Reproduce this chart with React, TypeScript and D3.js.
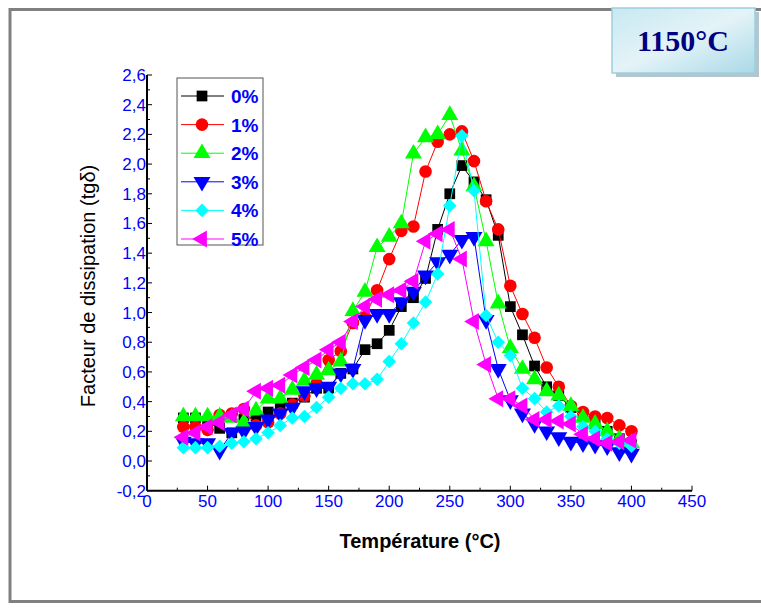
import React from "react";
import * as d3 from "d3";

const temps = [30, 40, 50, 60, 70, 80, 90, 100, 110, 120, 130, 140, 150, 160, 170, 180, 190, 200, 210, 220, 230, 240, 250, 260, 270, 280, 290, 300, 310, 320, 330, 340, 350, 360, 370, 380, 390, 400];

const s0 = [0.29, 0.29, 0.26, 0.22, 0.19, 0.28, 0.30, 0.33, 0.36, 0.39, 0.43, 0.49, 0.49, 0.59, 0.62, 0.75, 0.79, 0.88, 1.04, 1.10, 1.23, 1.56, 1.80, 1.99, 1.88, 1.76, 1.52, 1.04, 0.85, 0.64, 0.50, 0.44, 0.36, 0.30, 0.25, 0.20, 0.15, 0.11];
const s1 = [0.23, 0.23, 0.21, 0.31, 0.32, 0.35, 0.24, 0.26, 0.32, 0.38, 0.44, 0.52, 0.68, 0.74, 0.93, 0.97, 1.15, 1.36, 1.55, 1.58, 1.95, 2.15, 2.20, 2.22, 2.02, 1.75, 1.56, 1.18, 0.99, 0.83, 0.63, 0.50, 0.37, 0.33, 0.30, 0.29, 0.24, 0.20];
const s2 = [0.30, 0.30, 0.30, 0.30, 0.29, 0.26, 0.34, 0.42, 0.42, 0.48, 0.54, 0.58, 0.61, 0.67, 1.01, 1.14, 1.44, 1.51, 1.60, 2.07, 2.18, 2.20, 2.33, 2.09, 1.85, 1.48, 1.06, 0.76, 0.62, 0.55, 0.47, 0.44, 0.37, 0.29, 0.25, 0.20, 0.15, 0.12];
const s3 = [0.13, 0.12, 0.12, 0.07, 0.19, 0.20, 0.23, 0.28, 0.32, 0.36, 0.47, 0.49, 0.50, 0.59, 0.62, 0.95, 0.99, 0.99, 1.07, 1.14, 1.25, 1.34, 1.39, 1.49, 1.51, 0.95, 0.62, 0.41, 0.32, 0.25, 0.20, 0.16, 0.13, 0.12, 0.11, 0.10, 0.06, 0.05];
const s4 = [0.09, 0.09, 0.09, 0.10, 0.12, 0.13, 0.15, 0.19, 0.24, 0.29, 0.30, 0.36, 0.43, 0.49, 0.52, 0.52, 0.55, 0.67, 0.79, 0.93, 1.07, 1.26, 1.72, 2.19, 1.82, 0.98, 0.80, 0.71, 0.49, 0.42, 0.33, 0.37, 0.30, 0.23, 0.20, 0.15, 0.12, 0.10];
const s5 = [0.16, 0.19, 0.23, 0.26, 0.31, 0.35, 0.47, 0.49, 0.51, 0.58, 0.63, 0.68, 0.75, 0.80, 0.94, 1.04, 1.09, 1.12, 1.15, 1.21, 1.48, 1.53, 1.56, 1.36, 0.94, 0.65, 0.42, 0.42, 0.37, 0.28, 0.28, 0.27, 0.25, 0.18, 0.15, 0.12, 0.13, 0.14];

const seriesNames = ["0%", "1%", "2%", "3%", "4%", "5%"];
const seriesValues = [s0, s1, s2, s3, s4, s5];
const seriesColors = ["#000000", "#ff0000", "#00ff00", "#0000ff", "#00ffff", "#ff00ff"];
const seriesShapes = ["square", "circle", "triUp", "triDown", "diamond", "triLeft"];

const xTicks = [0, 50, 100, 150, 200, 250, 300, 350, 400, 450];
const yTicks = [-0.2, 0, 0.2, 0.4, 0.6, 0.8, 1.0, 1.2, 1.4, 1.6, 1.8, 2.0, 2.2, 2.4, 2.6];

const titleText = "1150°C";
const xTitle = "Température (°C)";
const yTitle = "Facteur de dissipation (tgδ)";

const W = 761;
const H = 608;
const x = d3.scaleLinear().domain([0, 450]).range([147, 692]);
const y = d3.scaleLinear().domain([-0.2, 2.6]).range([490.7, 75]);

const font = "'Liberation Sans', Arial, sans-serif";

function markerPath(shape: string): { d: string; rot: number } {
  switch (shape) {
    case "square":
      return { d: d3.symbol().type(d3.symbolSquare).size(115)() as string, rot: 0 };
    case "circle":
      return { d: d3.symbol().type(d3.symbolCircle).size(125)() as string, rot: 0 };
    case "triUp":
      return { d: d3.symbol().type(d3.symbolTriangle).size(125)() as string, rot: 0 };
    case "triDown":
      return { d: d3.symbol().type(d3.symbolTriangle).size(125)() as string, rot: 180 };
    case "triLeft":
      return { d: d3.symbol().type(d3.symbolTriangle).size(125)() as string, rot: -90 };
    case "diamond":
      return { d: d3.symbol().type(d3.symbolSquare).size(92)() as string, rot: 45 };
  }
  return { d: "", rot: 0 };
}

export default function App() {
  const line = d3
    .line<number>()
    .x((_, i) => x(temps[i]))
    .y((v) => y(v));

  const minorY = d3.range(-0.2, 2.61, 0.1);
  const minorX = d3.range(0, 451, 25);

  const legendX = 177;
  const legendY = 78;
  const legendRowY = (i: number) => 96 + i * 28.6;

  return (
    <svg width={W} height={H} style={{ position: "absolute", left: 0, top: 0 }}>
      <defs>
        <linearGradient id="tbg" x1="0" y1="0" x2="1" y2="1">
          <stop offset="0" stopColor="#c8e8f1" />
          <stop offset="0.5" stopColor="#e4f3f8" />
          <stop offset="1" stopColor="#a9d9e6" />
        </linearGradient>
      </defs>
      <rect x={0} y={0} width={W} height={H} fill="#ffffff" />
      {/* outer frame */}
      <rect x={10} y={9.5} width={760} height={592} fill="none" stroke="#808080" strokeWidth={3} />

      {/* title box */}
      <rect x={616} y={12} width={143} height={65} fill="#9fb8c4" opacity={0.8} />
      <rect x={612} y={8} width={143} height={65} fill="url(#tbg)" stroke="#9ccfdc" strokeWidth={1.5} />
      <text x={683} y={51} textAnchor="middle" fontFamily="'Liberation Serif', 'Times New Roman', serif" fontWeight="bold" fontSize={30} fill="#000080">
        {titleText}
      </text>

      {/* axes */}
      <line x1={x(0)} y1={y(-0.2)} x2={x(450)} y2={y(-0.2)} stroke="#000" strokeWidth={2} />
      <line x1={x(0)} y1={y(-0.2)} x2={x(0)} y2={y(2.6)} stroke="#000" strokeWidth={2} />
      {minorY.map((v, i) => (
        <line key={"my" + i} x1={x(0)} x2={x(0) + (i % 2 === 0 ? 5 : 3)} y1={y(v)} y2={y(v)} stroke="#000" strokeWidth={1} />
      ))}
      {minorX.map((v, i) => (
        <line key={"mx" + i} x1={x(v)} x2={x(v)} y1={y(-0.2)} y2={y(-0.2) - (i % 2 === 0 ? 5 : 3)} stroke="#000" strokeWidth={1} />
      ))}
      {yTicks.map((v) => (
        <text key={"yl" + v} x={146} y={y(v) + 6} textAnchor="end" fontFamily={font} fontSize={17} fill="#0000ff">
          {v.toFixed(1).replace(".", ",")}
        </text>
      ))}
      {xTicks.map((v) => (
        <text key={"xl" + v} x={x(v)} y={507} textAnchor="middle" fontFamily={font} fontSize={17} fill="#0000ff">
          {v}
        </text>
      ))}
      <text x={420} y={548} textAnchor="middle" fontFamily={font} fontWeight="bold" fontSize={20} fill="#000">
        {xTitle}
      </text>
      <text transform="translate(95,286) rotate(-90)" textAnchor="middle" fontFamily={font} fontSize={20} fill="#000">
        {yTitle}
      </text>

      {/* series */}
      {seriesValues.map((vals, si) => {
        const m = markerPath(seriesShapes[si]);
        return (
          <g key={"s" + si}>
            <path d={line(vals) as string} fill="none" stroke={seriesColors[si]} strokeWidth={1} />
            {vals.map((v, i) => (
              <path
                key={i}
                d={m.d}
                transform={`translate(${x(temps[i])},${y(v)}) rotate(${m.rot})`}
                fill={seriesColors[si]}
              />
            ))}
          </g>
        );
      })}

      {/* legend */}
      <rect x={legendX} y={legendY} width={86} height={167} fill="#ffffff" stroke="#555" strokeWidth={1} />
      {seriesNames.map((name, i) => {
        const m = markerPath(seriesShapes[i]);
        const ly = legendRowY(i);
        return (
          <g key={"lg" + i}>
            <line x1={181} x2={224} y1={ly} y2={ly} stroke={seriesColors[i]} strokeWidth={1} />
            <path d={m.d} transform={`translate(202,${ly}) rotate(${m.rot})`} fill={seriesColors[i]} />
            <text x={231} y={ly + 7} fontFamily={font} fontWeight="bold" fontSize={19} fill="#0000ff">
              {name}
            </text>
          </g>
        );
      })}
    </svg>
  );
}
